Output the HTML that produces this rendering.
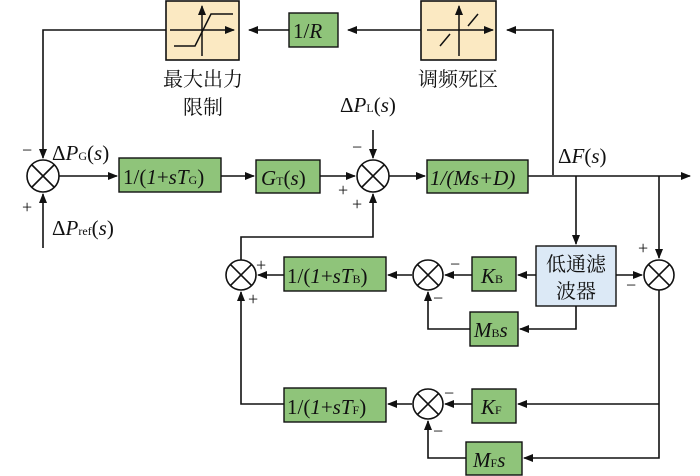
<!DOCTYPE html>
<html><head><meta charset="utf-8"><style>
body{margin:0;background:#fff}
svg{display:block}
text{font-family:"Liberation Serif","Noto Serif CJK SC",serif;fill:#111}
.cn{font-family:"Liberation Sans","Noto Sans CJK SC",sans-serif}
</style></head><body>
<svg width="700" height="476" viewBox="0 0 700 476" xmlns="http://www.w3.org/2000/svg">
<defs><marker id="a" markerWidth="10" markerHeight="8" refX="9" refY="4" orient="auto" markerUnits="userSpaceOnUse"><path d="M0,0 L10,4 L0,8 Z" fill="#111"/></marker></defs>
<g stroke="#111" stroke-width="1.6" fill="none">
<!-- top feedback -->
<polyline points="553,175 553,30 507,30" marker-end="url(#a)"/>
<line x1="421" y1="30" x2="348" y2="30" marker-end="url(#a)"/>
<line x1="289" y1="30" x2="249" y2="30" marker-end="url(#a)"/>
<polyline points="166,30 43,30 43,158" marker-end="url(#a)"/>
<line x1="43" y1="248" x2="43" y2="194" marker-end="url(#a)"/>
<line x1="59" y1="176" x2="117" y2="176" marker-end="url(#a)"/>
<line x1="221" y1="176" x2="254" y2="176" marker-end="url(#a)"/>
<line x1="320" y1="176" x2="355" y2="176" marker-end="url(#a)"/>
<line x1="373" y1="130" x2="373" y2="158" marker-end="url(#a)"/>
<line x1="389" y1="176" x2="425" y2="176" marker-end="url(#a)"/>
<line x1="528" y1="176" x2="690" y2="176" marker-end="url(#a)"/>
<line x1="576" y1="176" x2="576" y2="244" marker-end="url(#a)"/>
<line x1="659" y1="176" x2="659" y2="258" marker-end="url(#a)"/>
<line x1="616" y1="275" x2="642" y2="275" marker-end="url(#a)"/>
<line x1="536" y1="275" x2="518" y2="275" marker-end="url(#a)"/>
<line x1="472" y1="275" x2="445" y2="275" marker-end="url(#a)"/>
<line x1="412" y1="275" x2="388" y2="275" marker-end="url(#a)"/>
<line x1="284" y1="275" x2="258" y2="275" marker-end="url(#a)"/>
<polyline points="576,306 576,329 520,329" marker-end="url(#a)"/>
<polyline points="470,329 428,329 428,292" marker-end="url(#a)"/>
<polyline points="241,260 241,237 373,237 373,194" marker-end="url(#a)"/>
<polyline points="284,404 241,404 241,292" marker-end="url(#a)"/>
<polyline points="659,290 659,458 524,458" marker-end="url(#a)"/>
<line x1="659" y1="404" x2="518" y2="404" marker-end="url(#a)"/>
<line x1="472" y1="404" x2="445" y2="404" marker-end="url(#a)"/>
<line x1="412" y1="404" x2="388" y2="404" marker-end="url(#a)"/>
<polyline points="466,458 428,458 428,421" marker-end="url(#a)"/>
</g>
<!-- sums -->
<g stroke="#111" stroke-width="1.6" fill="#fff">
<g transform="translate(43,176)"><circle r="16"/><path d="M-11,-11L11,11M-11,11L11,-11"/></g>
<g transform="translate(373,176)"><circle r="16"/><path d="M-11,-11L11,11M-11,11L11,-11"/></g>
<g transform="translate(241,275)"><circle r="15"/><path d="M-10.6,-10.6L10.6,10.6M-10.6,10.6L10.6,-10.6"/></g>
<g transform="translate(428,275)"><circle r="15"/><path d="M-10.6,-10.6L10.6,10.6M-10.6,10.6L10.6,-10.6"/></g>
<g transform="translate(659,275)"><circle r="15"/><path d="M-10.6,-10.6L10.6,10.6M-10.6,10.6L10.6,-10.6"/></g>
<g transform="translate(428,404)"><circle r="15"/><path d="M-10.6,-10.6L10.6,10.6M-10.6,10.6L10.6,-10.6"/></g>
</g>
<!-- nonlinear boxes -->
<g stroke="#111" stroke-width="1.6">
<rect x="166" y="1" width="73" height="59" fill="#fbe9c2"/>
<rect x="421" y="1" width="75" height="59" fill="#fbe9c2"/>
</g>
<g stroke="#111" stroke-width="1.5" fill="none">
<line x1="170" y1="30" x2="234" y2="30" marker-end="url(#a)"/>
<line x1="202" y1="56" x2="202" y2="6" marker-end="url(#a)"/>
<polyline points="174,46 195,46 211,14 233,14"/>
<line x1="427" y1="30" x2="493" y2="30" marker-end="url(#a)"/>
<line x1="459" y1="56" x2="459" y2="6" marker-end="url(#a)"/>
<line x1="440" y1="46" x2="450" y2="34"/>
<line x1="468" y1="26" x2="478" y2="14"/>
</g>
<!-- green boxes -->
<g stroke="#111" stroke-width="1.4" fill="#8fc47a">
<rect x="289" y="13" width="49" height="34"/>
<rect x="119" y="158" width="102" height="34"/>
<rect x="256" y="160" width="64" height="33"/>
<rect x="427" y="160" width="101" height="33"/>
<rect x="284" y="257" width="102" height="34"/>
<rect x="472" y="257" width="44" height="34"/>
<rect x="470" y="312" width="48" height="34"/>
<rect x="284" y="388" width="102" height="34"/>
<rect x="472" y="389" width="44" height="34"/>
<rect x="466" y="442" width="56" height="33"/>
</g>
<rect x="536" y="246" width="80" height="60" fill="#dce9f6" stroke="#111" stroke-width="1.4"/>
<g font-size="21">
<text x="293" y="38">1/<tspan font-style="italic">R</tspan></text>
<text x="123" y="184">1/(<tspan font-style="italic">1</tspan>+<tspan font-style="italic">sT</tspan><tspan font-size="12">G</tspan>)</text>
<text x="261" y="185"><tspan font-style="italic">G</tspan><tspan font-size="12">T</tspan>(<tspan font-style="italic">s</tspan>)</text>
<text x="430" y="185" font-style="italic">1/(Ms+D)</text>
<text x="287" y="283">1/(<tspan font-style="italic">1</tspan>+<tspan font-style="italic">sT</tspan><tspan font-size="12">B</tspan>)</text>
<text x="481" y="283"><tspan font-style="italic">K</tspan><tspan font-size="12">B</tspan></text>
<text x="474" y="337"><tspan font-style="italic">M</tspan><tspan font-size="12">B</tspan><tspan font-style="italic">s</tspan></text>
<text x="287" y="414">1/(<tspan font-style="italic">1</tspan>+<tspan font-style="italic">sT</tspan><tspan font-size="12">F</tspan>)</text>
<text x="481" y="414"><tspan font-style="italic">K</tspan><tspan font-size="12">F</tspan></text>
<text x="473" y="467"><tspan font-style="italic">M</tspan><tspan font-size="12">F</tspan><tspan font-style="italic">s</tspan></text>
<text x="52" y="160">Δ<tspan font-style="italic">P</tspan><tspan font-size="12">G</tspan>(<tspan font-style="italic">s</tspan>)</text>
<text x="52" y="235">Δ<tspan font-style="italic">P</tspan><tspan font-size="12">ref</tspan>(<tspan font-style="italic">s</tspan>)</text>
<text x="340" y="112">Δ<tspan font-style="italic">P</tspan><tspan font-size="12">L</tspan>(<tspan font-style="italic">s</tspan>)</text>
<text x="558" y="163">Δ<tspan font-style="italic">F</tspan>(<tspan font-style="italic">s</tspan>)</text>
</g>
<g font-size="18">
<text x="22" y="156">−</text><text x="22" y="213">+</text>
<text x="352" y="153">−</text><text x="338" y="196">+</text><text x="352" y="210">+</text>
<text x="256" y="271">+</text><text x="248" y="305">+</text>
<text x="450" y="270">−</text><text x="433" y="304">−</text>
<text x="638" y="254">+</text><text x="626" y="291">−</text>
<text x="444" y="399">−</text><text x="433" y="437">−</text>
</g>
<g class="cn" font-size="20">
<text x="203" y="86" text-anchor="middle">最大出力</text>
<text x="203" y="114" text-anchor="middle">限制</text>
<text x="458" y="86" text-anchor="middle">调频死区</text>
<text x="576" y="271" text-anchor="middle">低通滤</text>
<text x="576" y="298" text-anchor="middle">波器</text>
</g>
</svg>
</body></html>
